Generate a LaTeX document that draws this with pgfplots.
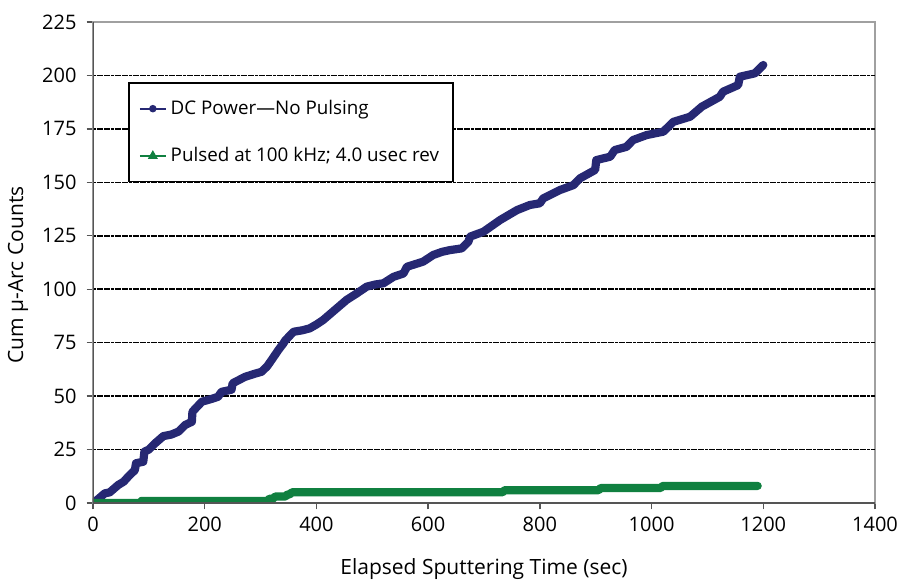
\documentclass[border=0pt]{standalone}
\usepackage{fontspec}
\setmainfont{Open Sans}
\usepackage{pgfplots}
\pgfplotsset{compat=1.18}

\definecolor{dcblue}{RGB}{38,40,115}
\definecolor{pgreen}{RGB}{16,128,64}
\definecolor{axdark}{RGB}{85,85,85}
\definecolor{axlight}{RGB}{160,160,160}

\begin{document}
\begin{tikzpicture}
\begin{axis}[
  scale only axis, width=391pt, height=240.5pt,
  xmin=0, xmax=1400, ymin=0, ymax=225,
  xtick={0,200,...,1400}, ytick={0,25,...,225},
  extra y ticks={25,50,...,200}, extra y tick labels={},
  extra y tick style={grid=major, major tick length=0pt},
  grid style={black, line width=0.75pt, dash pattern=on 1.5pt off 0.3pt},
  axis line style={draw=axlight, line width=0.8pt},
  tick align=outside, tick pos=left,
  major tick length=3.2pt,
  tick style={axdark, line width=0.7pt},
  font=\fontsize{10}{12}\selectfont,
  /pgf/number format/assume math mode=true,
  /pgf/number format/1000 sep={},
  yticklabel style={xshift=-1.5pt},
  xticklabel style={yshift=-0.5pt},
  xlabel={Elapsed Sputtering Time (sec)},
  ylabel={Cum μ-Arc Counts},
  label style={font=\fontsize{10.5}{12}\selectfont},
  xlabel style={at={(axis description cs:0.5,-0.137)}, anchor=center},
  ylabel style={at={(axis description cs:-0.096,0.474)}, anchor=center},
  legend style={at={(0.0448,0.875)}, anchor=north west, draw=black,
    line width=0.9pt, inner xsep=5pt, inner ysep=6.5pt, row sep=11pt,
    font=\fontsize{9.4}{11}\selectfont, cells={anchor=west},
    legend cell align=left},
  legend image code/.code={%
    \draw[mark repeat=2,mark phase=2] plot coordinates {(0pt,0pt)(6.5pt,0pt)(13pt,0pt)};},
]
\addplot[dcblue, line width=4.1pt, line join=round, line cap=round, forget plot]
  coordinates {(0,0)(10,2)(21,4.5)(30,5)(45,8.4)(55,10)(63,12.3)(75,15.4)
  (77,18.6)(90,19.3)(92,24)(100,25)(111,27.9)(126,31.3)(140,32)(153,33.4)
  (165,36.5)(177,38)(178,42.7)(195,47.4)(210,48.5)(224,49.7)(230,52)(248,53)
  (250,56)(272,59)(290,60.5)(302,61.4)(312,64)(320,67)(332,71.6)(341,74.7)
  (344,76)(359,80.1)(375,80.8)(388,81.7)(400,83.5)(412,85.6)(433,90.3)
  (454,95)(472,98)(490,101.2)(505,102.2)(520,102.8)(538,105.8)(556,107.4)
  (562,110.5)(591,112.9)(609,116)(625,117.5)(639,118.3)(660,119.1)(672,122.2)
  (675,124.6)(699,126.9)(729,132.4)(759,137)(782,139.4)(800,140.2)(806,142.5)
  (836,146.4)(860,148.7)(872,151.9)(899,155.8)(901,160.4)(926,162)(934,165.1)
  (955,166.6)(967,169.8)(991,172.1)(1021,173.7)(1039,178.3)(1069,180.7)
  (1090,185.4)(1122,190)(1128,192.4)(1155,195.5)(1158,199.4)(1185,201)(1200,204.9)};
\addplot[pgreen, line width=4.1pt, line join=round, line cap=round, forget plot]
  coordinates {(0,0)(85,0)(87,1)(312,1)(316,2)(322,2)(326,3)(344,3)(348,4)
  (352,4)(356,5)(733,5)(737,6)(905,6)(909,7)(1016,7)(1020,8)(1190,8)};
\addlegendimage{dcblue, line width=0.9pt, mark=*, mark size=1.4pt}
\addlegendentry{DC Power—No Pulsing}
\addlegendimage{pgreen, line width=0.9pt, mark=triangle*, mark size=2pt}
\addlegendentry{Pulsed at 100 kHz; 4.0 usec rev}
\draw[axdark, line width=0.9pt] (rel axis cs:0,1) -- (rel axis cs:0,0) -- (rel axis cs:1,0);
\coordinate (o) at (rel axis cs:0,0);
\end{axis}
\pgfresetboundingbox
\path (o) ++(-46.5pt,-40.5pt) rectangle ++(452pt,292pt);
\end{tikzpicture}
\end{document}
